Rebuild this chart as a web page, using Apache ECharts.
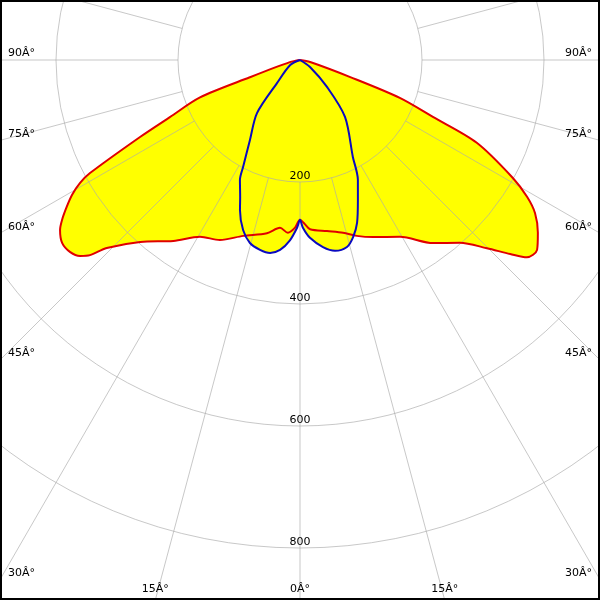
<!DOCTYPE html>
<html>
<head>
<meta charset="utf-8">
<script src="https://cdn.jsdelivr.net/npm/echarts@6/dist/echarts.min.js"></script>
<style>
html,body{margin:0;padding:0;background:#fff;}
#chart{width:600px;height:600px;}
</style>
</head>
<body>
<div id="chart"></div>
<script>
// C0-C180 plane (red), angle in degrees (negative = left), intensity in cd
var redAngles = [-90, -78, -71, -69.5, -66.3, -64.3, -61.7, -60.8, -59.4, -57.8, -56.1, -54.7, -52.4, -50.1, -48.3, -47.1, -45.8, -41.3, -35, -29.5, -24, -17.9, -10.8, -6.8, -4, -1.7, 0,
                 1.5, 3.4, 9, 14, 17.9, 22.4, 29.5, 36, 41.2, 44.8, 47.3, 49, 51.3, 54, 56.9, 58.9, 61, 64.9, 66.8, 69.2, 71.2, 78.7, 90];
var redValues = [0, 17, 87, 175, 233, 291, 391, 413, 434, 452, 470, 482, 492, 491, 483, 470, 442, 397, 362, 333, 323, 303, 289, 277, 284, 275, 262,
                 268, 278, 284, 292, 303, 314, 333, 371, 398, 435, 469, 493, 498, 482, 460, 435, 399, 320, 237, 175, 87, 17, 0];
// C90-C270 plane (blue)
var blueAngles = [-90, -63, -45, -39, -32, -28, -26.6, -23.6, -21.8, -18.5, -15.3, -11.9, -8.8, -6, -3.2, -1, 0,
                  1, 3.2, 7, 10.4, 14.1, 16.7, 19.3, 22.5, 25.8, 28.6, 38.3, 45, 55, 90];
var blueValues = [0, 18, 53, 112, 155, 199, 220, 245, 265, 294, 311, 318, 320, 313, 296, 275, 262,
                  275, 292, 309, 318, 316, 303, 283, 248, 218, 181, 119, 63, 20, 0];
// grid ticks / labels
var radiusTicks = [200, 400, 600, 800];
var angleLabelValues = [90, 75, 60, 45, 30, 15, 0];
var angleLabelTexts = ['90Â°', '75Â°', '60Â°', '45Â°', '30Â°', '15Â°', '0Â°'];

var W = 600, H = 600, CX = 300, CY = 60, R = 610, RMAX = 1000;
var R0 = R * radiusTicks[0] / RMAX;
var SMOOTH = 0.3;

function pairs(a, v) { return a.map(function (x, i) { return [v[i], x]; }); }

var gridColor = 'rgba(170,170,170,0.65)';
var font = '11px "DejaVu Sans"';

// angle labels where each radial line meets the picture border
var graphics = [];
angleLabelValues.forEach(function (g, i) {
  var sides = g === 0 ? [1] : [-1, 1];
  sides.forEach(function (s) {
    var rad = g * Math.PI / 180;
    var sx = Math.sin(rad), cy = Math.cos(rad);
    var tSide = sx > 1e-9 ? (W / 2) / sx : Infinity;
    var tBot = cy > 1e-9 ? (H - CY) / cy : Infinity;
    var el;
    if (tSide <= tBot) {
      var py = CY + tSide * cy;
      el = { x: s < 0 ? 8 : W - 8, y: py - 1, align: s < 0 ? 'left' : 'right', va: 'bottom' };
    } else {
      var px = CX + s * tBot * sx;
      el = { x: px, y: H - 5, align: 'center', va: 'bottom' };
    }
    graphics.push({
      type: 'text', z: 50,
      style: { text: angleLabelTexts[i], x: el.x, y: el.y, font: font, fill: '#000',
               align: el.align, verticalAlign: el.va, textAlign: el.align, textVerticalAlign: el.va }
    });
  });
});
graphics.push({ type: 'rect', z: 60, shape: { x: 1, y: 1, width: W - 2, height: H - 2 },
                style: { fill: 'none', stroke: '#000', lineWidth: 2 } });

var chart = echarts.init(document.getElementById('chart'), null, { renderer: 'canvas' });
chart.setOption({
  animation: false,
  backgroundColor: '#fff',
  polar: [
    { center: [CX, CY], radius: [0, R] },
    { center: [CX, CY], radius: [R0, R] }
  ],
  angleAxis: [
    { polarIndex: 0, type: 'value', min: -180, max: 180, startAngle: 90, clockwise: false, show: false },
    { polarIndex: 1, type: 'value', min: 0, max: 360, interval: 15, startAngle: 270, z: 5,
      axisLine: { show: false }, axisTick: { show: false }, axisLabel: { show: false },
      splitLine: { show: true, lineStyle: { color: gridColor, width: 1 } } }
  ],
  radiusAxis: [
    { polarIndex: 0, type: 'value', min: 0, max: RMAX, show: false },
    { polarIndex: 1, type: 'value', min: radiusTicks[0], max: RMAX, interval: 200, z: 6,
      axisLine: { show: false }, axisTick: { show: false },
      axisLabel: { show: true, margin: 0, align: 'center', verticalAlign: 'bottom', showMaxLabel: false,
                   color: '#000', fontSize: 11, fontFamily: 'DejaVu Sans',
                   formatter: function (v) { return radiusTicks.indexOf(v) >= 0 ? String(v) : ''; } },
      splitLine: { show: true, lineStyle: { color: [gridColor, gridColor, gridColor, gridColor, 'rgba(0,0,0,0)'], width: 1 } } }
  ],
  series: [
    { type: 'line', coordinateSystem: 'polar', polarIndex: 0, z: 1, data: pairs(redAngles, redValues), smooth: SMOOTH,
      showSymbol: false, symbol: 'none', lineStyle: { width: 0, opacity: 0 }, areaStyle: { color: '#ffff00', opacity: 1 }, silent: true },
    { type: 'line', coordinateSystem: 'polar', polarIndex: 0, z: 1, data: pairs(blueAngles, blueValues), smooth: SMOOTH,
      showSymbol: false, symbol: 'none', lineStyle: { width: 0, opacity: 0 }, areaStyle: { color: '#ffff00', opacity: 1 }, silent: true },
    { type: 'line', coordinateSystem: 'polar', polarIndex: 0, z: 10, data: pairs(redAngles, redValues), smooth: SMOOTH,
      showSymbol: false, symbol: 'none', lineStyle: { width: 2, color: '#e00000' } },
    { type: 'line', coordinateSystem: 'polar', polarIndex: 0, z: 11, data: pairs(blueAngles, blueValues), smooth: SMOOTH,
      showSymbol: false, symbol: 'none', lineStyle: { width: 2, color: '#0a0ac0' } }
  ],
  graphic: graphics
});
</script>
</body>
</html>
